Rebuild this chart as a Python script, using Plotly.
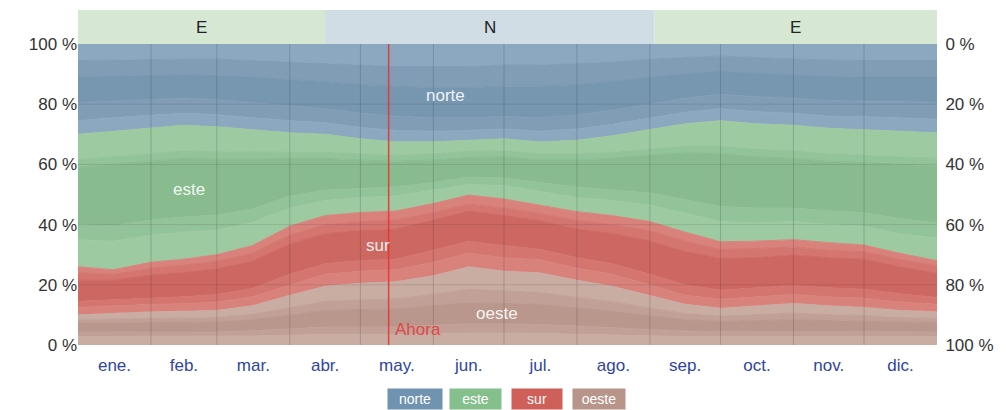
import plotly.graph_objects as go

# eje x: día del año
dias = [0, 15, 31, 45, 59, 74, 90, 105, 120, 135, 151, 166, 181,
        196, 212, 227, 243, 258, 273, 288, 304, 319, 334, 349, 365]

# oeste (de abajo hacia arriba)
o_nw = [2.8, 2.8, 2.8, 2.8, 2.8, 3, 3.2, 3.5, 3.5, 3.5, 3.8, 4, 4, 3.8, 3.5, 3.2, 3, 2.8, 2.8, 2.8, 2.8, 2.8, 2.8, 2.8, 2.8]
o_wnw = [1.5, 1.5, 1.5, 1.5, 1.5, 1.7, 2.2, 2.5, 2.5, 2.5, 2.8, 3, 3, 3, 2.8, 2.5, 2.2, 1.8, 1.6, 1.7, 1.8, 1.7, 1.6, 1.5, 1.5]
o_w = [3, 3, 3.2, 3.2, 3.3, 3.7, 4.5, 5.5, 5.8, 6, 6.5, 7, 6.8, 6.7, 6, 5.5, 4.5, 3.8, 3.4, 3.6, 3.8, 3.6, 3.5, 3.2, 3.1]
o_wsw = [1.2, 1.3, 1.4, 1.5, 1.5, 1.8, 2.5, 3, 3.2, 3.3, 3.7, 4.5, 4.2, 4, 3.5, 3.2, 2.6, 2, 1.8, 2, 2.2, 2, 1.9, 1.6, 1.5]
o_sw = [1.5, 1.9, 2.1, 2.2, 2.4, 2.8, 4.1, 5, 5.5, 5.7, 6.2, 7.5, 6.5, 6.5, 5.7, 5.1, 4.2, 3.1, 2.6, 2.9, 3.2, 2.9, 2.7, 2.4, 2.1]

# sur
s_sw = [2.5, 2.5, 2.5, 2.5, 2.8, 3, 3.5, 4, 4, 4, 4.5, 4.5, 4.5, 4.3, 4, 4, 3.5, 3, 3, 3, 3, 3, 3, 2.8, 2.5]
s_ssw = [2, 2, 2.2, 2.3, 2.5, 2.8, 3.5, 3.5, 3.5, 3.5, 4, 4, 4, 3.5, 3.5, 3.5, 3.5, 3.5, 3, 3, 3, 3, 3, 2.7, 2.3]
s_s = [7, 6.5, 7.5, 8, 8.5, 9, 10, 10, 10, 10, 10, 10, 10, 9.5, 9.5, 10, 11, 11, 10.5, 10, 10, 10, 10, 9, 8]
s_sse = [2.5, 2, 2.3, 2.5, 2.5, 2.7, 3, 3, 3, 3, 2.5, 2.3, 2.5, 2.4, 2.8, 3, 3.5, 3.5, 3, 3, 2.7, 2.5, 2.5, 2.5, 2.5]
s_se = [2, 1.5, 2, 2, 2.2, 2.5, 3, 3, 3, 3, 3, 3, 3, 2.8, 3, 3, 3, 3, 2.6, 2.5, 2.5, 2.5, 2.2, 2, 1.7]

# este
e_se = [9, 9.5, 9, 9, 8.2, 7.7, 6, 5, 5, 5, 4.5, 3.5, 4.5, 4.5, 4.7, 5, 5.5, 6.3, 6.7, 6, 6, 6, 6.3, 6.5, 7.5]
e_ese = [5, 5, 5, 5, 5, 4.5, 4, 3.5, 3, 3, 2.5, 2.5, 2.5, 3, 3.5, 3.5, 4, 4.5, 5, 5, 4.5, 4.5, 4.5, 5, 5]
e_e = [19, 20.5, 19.5, 19.5, 18.5, 16.5, 12.5, 10.5, 9.5, 8.5, 7.5, 6.5, 7, 7.5, 9, 10.5, 12.5, 15.5, 17.5, 17, 16.5, 16.5, 16.5, 18, 19]
e_ene = [2.5, 2.5, 2.5, 2.5, 2.5, 2.3, 2, 2, 2, 2, 2, 2, 2, 2, 2, 2, 2, 2.2, 2.5, 2.5, 2.5, 2.5, 2.5, 2.5, 2.5]
e_ne = [8.5, 8.5, 8.5, 8.5, 8.3, 7.5, 6.5, 6, 5, 4.5, 4, 3.7, 4, 4, 4.5, 5.5, 6.5, 7.5, 8.5, 8.5, 8.5, 8.5, 8.5, 8.5, 8.5]

# norte
n_ne = [4.5, 4.5, 4.3, 4, 4, 4, 4, 3.8, 3.8, 3.8, 3.5, 3.3, 3.3, 3.5, 3.8, 3.8, 3.8, 3.8, 4, 4, 4, 4, 4.3, 4.5, 4.5]
n_nne = [6, 5.5, 5.2, 5, 5, 5, 5, 4.7, 4.7, 4.7, 4.5, 4.2, 4.2, 4.5, 4.7, 4.7, 4.7, 4.7, 4.8, 5, 5, 5.2, 5.2, 5.5, 5.5]
n_n = [8.5, 8.2, 8, 7.8, 8, 8.5, 8.7, 9, 9.5, 10, 10, 10, 10, 10.5, 10, 9.5, 9, 8, 7.7, 7.8, 7.8, 8, 8, 8, 8.5]
n_nnw = [5.5, 5.5, 5.5, 5.2, 5.5, 5.5, 5.8, 6, 6.5, 6.5, 7, 7, 7, 7, 7, 6.5, 6, 5.5, 5, 5.2, 5.2, 5.5, 5.5, 5.5, 5.5]
n_nw = [5.5, 5.3, 5, 5, 5, 5.5, 6, 6.5, 7, 7.5, 7.5, 7.5, 7, 7, 6.5, 6, 5, 4.5, 4, 4.5, 5, 5.3, 5.5, 5.5, 5.5]

meses = ['ene.', 'feb.', 'mar.', 'abr.', 'may.', 'jun.', 'jul.', 'ago.', 'sep.', 'oct.', 'nov.', 'dic.']
dias_mes = [31, 28, 31, 30, 31, 30, 31, 31, 30, 31, 30, 31]
pct_ticks = [0, 20, 40, 60, 80, 100]

# dirección predominante (franja superior)
predominante = ['E', 'N', 'E']
pred_inicio = [0, 105, 245]
pred_fin = [105, 245, 365]

dia_ahora = 132

# colores: claro, medio, oscuro
colores = {
    'norte': ('#8ca8c1', '#819db6', '#7797b0'),
    'este': ('#9dcaa0', '#93c398', '#88bc8f'),
    'sur': ('#d9827c', '#d47570', '#cd6761'),
    'oeste': ('#c9aca2', '#c1a197', '#b9978d'),
}
leyenda = {'norte': '#6f93b0', 'este': '#85bf8c', 'sur': '#cf5f59', 'oeste': '#b8958a'}

capas = [
    ('oeste', [o_nw, o_wnw, o_w, o_wsw, o_sw]),
    ('sur', [s_sw, s_ssw, s_s, s_sse, s_se]),
    ('este', [e_se, e_ese, e_e, e_ene, e_ne]),
    ('norte', [n_ne, n_nne, n_n, n_nnw, n_nw]),
]
tono = [0, 1, 2, 1, 0]

fig = go.Figure()
for nombre, sub in capas:
    for i, valores in enumerate(sub):
        c = colores[nombre][tono[i]]
        fig.add_trace(go.Scatter(
            x=dias, y=valores, mode='lines', stackgroup='uno', groupnorm='percent',
            line=dict(width=1, color=c), fillcolor=c,
            hoverinfo='skip', showlegend=False))

# eje derecho invertido
fig.add_trace(go.Scatter(x=[0], y=[0], yaxis='y2', mode='markers',
                         marker=dict(opacity=0), hoverinfo='skip', showlegend=False))

formas = []
inicio = 0
for d in dias_mes[:-1]:
    inicio += d
    formas.append(dict(type='line', xref='x', yref='y', x0=inicio, x1=inicio, y0=0, y1=100,
                       line=dict(color='rgba(40,40,40,0.2)', width=1), layer='above'))
for v in pct_ticks[1:-1]:
    formas.append(dict(type='line', xref='paper', yref='y', x0=0, x1=1, y0=v, y1=v,
                       line=dict(color='rgba(40,40,40,0.13)', width=1), layer='above'))
formas.append(dict(type='line', xref='x', yref='y', x0=dia_ahora, x1=dia_ahora, y0=0, y1=100,
                   line=dict(color='rgba(235,50,50,0.9)', width=1.5), layer='above'))

anotaciones = []
for letra, a, b in zip(predominante, pred_inicio, pred_fin):
    formas.append(dict(type='rect', xref='x', yref='paper', x0=a, x1=b, y0=1.0, y1=1.113,
                       fillcolor='#d6e8d4' if letra == 'E' else '#d1dde5', line=dict(width=0)))
    anotaciones.append(dict(x=(a + b) / 2, y=1.056, xref='x', yref='paper', text=letra,
                            showarrow=False, yanchor='middle', font=dict(size=17, color='#222')))

centros = []
acum = 0
for d in dias_mes:
    centros.append(acum + d / 2)
    acum += d

etiquetas = [('norte', 156, 83), ('este', 47, 51.5), ('sur', 127.5, 33), ('oeste', 178, 10.6)]
for txt, x, y in etiquetas:
    anotaciones.append(dict(x=x, y=y, xref='x', yref='y', text=txt, showarrow=False,
                            font=dict(size=17, color='rgba(255,255,255,0.9)')))
anotaciones.append(dict(x=dia_ahora + 2, y=5, xref='x', yref='y', text='Ahora', showarrow=False,
                        xanchor='left', font=dict(size=17, color='#e04848')))

for nombre, xp, ancho in zip(['norte', 'este', 'sur', 'oeste'],
                             [0.392, 0.463, 0.534, 0.607], [50, 47, 46, 48]):
    anotaciones.append(dict(x=xp, y=-0.143, xref='paper', yref='paper', text=nombre,
                            showarrow=False, bgcolor=leyenda[nombre], borderpad=2, width=ancho,
                            yanchor='top', font=dict(size=14, color='white')))

# la página añade 8 px de margen al cuerpo
fig.update_layout(
    width=998, height=402,
    margin=dict(l=70, r=69, t=36, b=65),
    paper_bgcolor='white', plot_bgcolor='white',
    font=dict(family='Arial, Liberation Sans, sans-serif', size=17, color='#333'),
    shapes=formas, annotations=anotaciones,
    xaxis=dict(range=[0, 365], tickvals=centros, ticktext=meses, showgrid=False,
               zeroline=False, ticks='outside', ticklen=5, tickcolor='rgba(0,0,0,0)',
               tickfont=dict(size=17, color='#2f45a3')),
    yaxis=dict(range=[0, 100], tickvals=pct_ticks, ticktext=[f'{v} %' for v in pct_ticks],
               showgrid=False, zeroline=False, ticks=''),
    yaxis2=dict(range=[100, 0], overlaying='y', side='right', tickvals=pct_ticks,
                ticktext=[f'{v} %' for v in pct_ticks], showgrid=False, zeroline=False,
                ticks='outside', ticklen=4, tickcolor='rgba(0,0,0,0)'),
)

fig.write_html('out.html')
